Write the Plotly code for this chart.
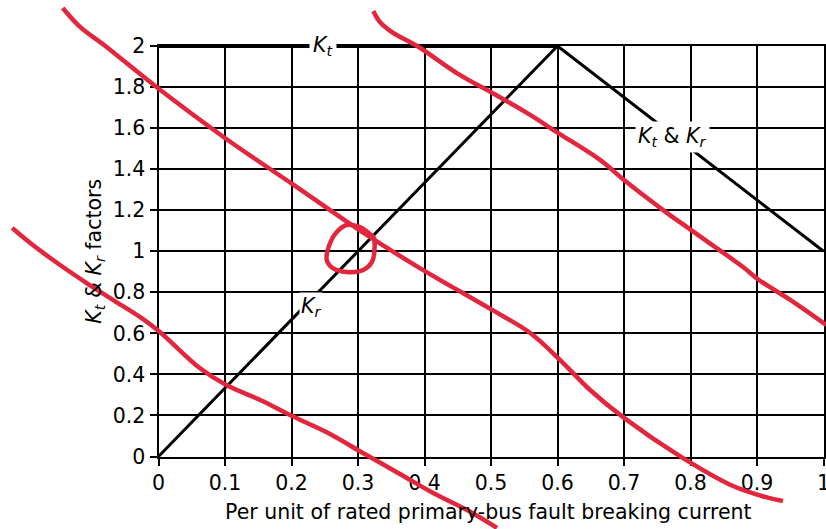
import plotly.graph_objects as go

W, H = 826, 529

# ---------------- data ----------------
x_ticks = [0, 0.1, 0.2, 0.3, 0.4, 0.5, 0.6, 0.7, 0.8, 0.9, 1.0]
x_tick_labels = ["0", "0.1", "0.2", "0.3", "0.4", "0.5", "0.6", "0.7", "0.8", "0.9", "1"]
y_ticks = [0, 0.2, 0.4, 0.6, 0.8, 1.0, 1.2, 1.4, 1.6, 1.8, 2.0]
y_tick_labels = ["0", "0.2", "0.4", "0.6", "0.8", "1", "1.2", "1.4", "1.6", "1.8", "2"]
x_title = "Per unit of rated primary-bus fault breaking current"
y_title = "<i>K<sub>t</sub></i> &amp; <i>K<sub>r</sub></i> factors"

# black characteristic lines
kt_x = [0.0, 0.6]
kt_y = [2.0, 2.0]
ktkr_x = [0.6, 1.0]
ktkr_y = [2.0, 1.0]
kr_x = [0.0, 0.6]
kr_y = [0.0, 2.0]

# red hand-drawn curves
red1_x = [-0.144, -0.118, -0.080, -0.005, 0.102, 0.201, 0.302, 0.393, 0.499,
          0.559, 0.604, 0.649, 0.700, 0.784, 0.864, 0.912, 0.939]
red1_y = [2.185, 2.093, 2.000, 1.805, 1.547, 1.328, 1.103, 0.918, 0.719,
          0.602, 0.470, 0.324, 0.188, 0.002, -0.144, -0.197, -0.217]

red2_x = [-0.220, -0.189, -0.148, -0.108, -0.068, -0.028, 0.002, 0.062, 0.102,
          0.153, 0.201, 0.258, 0.302, 0.363, 0.413, 0.464, 0.509]
red2_y = [1.113, 1.030, 0.933, 0.845, 0.762, 0.680, 0.607, 0.431, 0.348,
          0.275, 0.197, 0.110, 0.027, -0.085, -0.178, -0.261, -0.348]

red3_x = [0.323, 0.333, 0.351, 0.389, 0.453, 0.502, 0.554, 0.601, 0.664,
          0.700, 0.765, 0.801, 0.879, 0.903, 0.950, 1.004]
red3_y = [2.171, 2.117, 2.068, 2.000, 1.859, 1.771, 1.674, 1.576, 1.445,
          1.347, 1.186, 1.103, 0.923, 0.860, 0.763, 0.641]

circle_x = [0.323, 0.303, 0.283, 0.268, 0.258, 0.253, 0.262, 0.283, 0.308, 0.321,
            0.325, 0.323, 0.307]
circle_y = [1.069, 1.118, 1.128, 1.094, 1.040, 0.957, 0.918, 0.899, 0.909, 0.948,
            1.021, 1.069, 1.099]

# ---------------- layout geometry ----------------
PX_L, PX_R, PX_T, PX_B = 158.5, 823.5, 46.0, 456.5
XR = (0.0, 1.0)
YR = (0.0, 2.0)
dom_x = [PX_L / W, PX_R / W]
dom_y = [(H - PX_B) / H, (H - PX_T) / H]
sx = (XR[1] - XR[0]) / (PX_R - PX_L)
sy = (YR[1] - YR[0]) / (PX_B - PX_T)
x2_range = [XR[0] - PX_L * sx, XR[1] + (W - PX_R) * sx]
y2_range = [YR[0] - (H - PX_B) * sy, YR[1] + PX_T * sy]

FONT = "DejaVu Sans, Liberation Sans, Arial, sans-serif"
FS = 20.5
RED = "#e2263e"

fig = go.Figure()

# black lines (on full-figure axes so they are not clipped at the frame)
fig.add_trace(go.Scatter(x=kt_x, y=kt_y, mode="lines", line=dict(color="black", width=4),
                         xaxis="x2", yaxis="y2", hoverinfo="skip"))
fig.add_trace(go.Scatter(x=ktkr_x, y=ktkr_y, mode="lines", line=dict(color="black", width=3),
                         xaxis="x2", yaxis="y2", hoverinfo="skip"))
fig.add_trace(go.Scatter(x=kr_x, y=kr_y, mode="lines", line=dict(color="black", width=3),
                         xaxis="x2", yaxis="y2", hoverinfo="skip"))

for cx, cy in [(red1_x, red1_y), (red2_x, red2_y), (red3_x, red3_y), (circle_x, circle_y)]:
    fig.add_trace(go.Scatter(x=cx, y=cy, mode="lines",
                             line=dict(color=RED, width=4.5, shape="spline", smoothing=1.0),
                             xaxis="x2", yaxis="y2", hoverinfo="skip"))

axis_common = dict(
    showgrid=True, gridcolor="black", gridwidth=1.6,
    showline=True, linecolor="black", linewidth=2, mirror=True,
    ticks="outside", ticklen=7, tickwidth=1.6, tickcolor="black",
    tickfont=dict(family=FONT, size=FS, color="black"),
    ticklabeloverflow="allow",
    zeroline=False, automargin=False, fixedrange=True,
)

fig.update_layout(
    width=W, height=H,
    margin=dict(l=0, r=0, t=0, b=0, pad=0),
    paper_bgcolor="white",
    plot_bgcolor="rgba(0,0,0,0)",
    showlegend=False,
    font=dict(family=FONT, size=FS, color="black"),
    xaxis=dict(domain=dom_x, range=list(XR), anchor="y",
               tickmode="array", tickvals=x_ticks, ticktext=x_tick_labels,
               **axis_common),
    yaxis=dict(domain=dom_y, range=list(YR), anchor="x",
               tickmode="array", tickvals=y_ticks, ticktext=y_tick_labels,
               title=dict(text=y_title,
                          font=dict(family=FONT, size=FS, color="black"), standoff=6),
               **axis_common),
    xaxis2=dict(domain=[0, 1], range=x2_range, anchor="y2", visible=False, fixedrange=True),
    yaxis2=dict(domain=[0, 1], range=y2_range, anchor="x2", visible=False, fixedrange=True),
)

# x-axis title placed below the tick labels
fig.add_annotation(x=488.5 / W, y=(H - 512) / H, xref="paper", yref="paper",
                   text=x_title, showarrow=False, xanchor="center", yanchor="middle",
                   font=dict(family=FONT, size=FS, color="black"))

label_font = dict(family=FONT, size=FS, color="black")
fig.add_annotation(x=0.247, y=2.0, xref="x", yref="y", text="<i>K<sub>t</sub></i>",
                   showarrow=False, bgcolor="white", borderpad=3, font=label_font)
fig.add_annotation(x=0.773, y=1.556, xref="x", yref="y",
                   text="<i>K<sub>t</sub></i> &amp; <i>K<sub>r</sub></i>",
                   showarrow=False, bgcolor="white", borderpad=2, font=label_font)
fig.add_annotation(x=0.229, y=0.727, xref="x", yref="y", text="<i>K<sub>r</sub></i>",
                   showarrow=False, bgcolor="white", borderpad=1, font=label_font)

fig.write_html("out.html")
